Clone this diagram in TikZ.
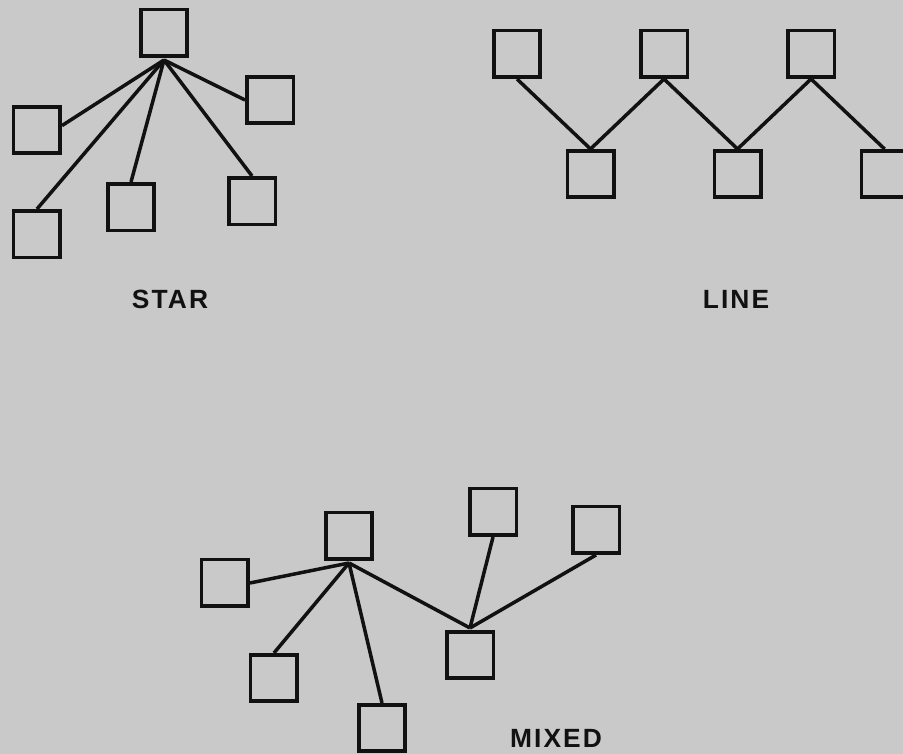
\documentclass[tikz,border=0pt]{standalone}
\usepackage{fontspec}
\newfontfamily\lblfont[LetterSpace=8]{Liberation Sans}
\usetikzlibrary{positioning}
\usepackage{xcolor}
\definecolor{paper}{HTML}{C9C9C9}
\definecolor{ink}{HTML}{111111}

\begin{document}
\begin{tikzpicture}[
  box/.style={draw=ink,line width=2pt,minimum size=0.93cm,inner sep=0pt},
  link/.style={draw=ink,line width=2pt},
  lbl/.style={font=\lblfont\bfseries\fontsize{15}{18}\selectfont,text=ink},
]
\path[use as bounding box,fill=paper] (0,0) rectangle (18.06,15.08);

% star
\node[box] (sc) at (3.28,14.42) {};
\coordinate[below=0.04cm of sc] (shub);
\node[box, below left=0.94cm and 1.54cm of sc]  (slt) {};
\node[box, below right=0.34cm and 1.12cm of sc] (srt) {};
\node[box, below=1.08cm of slt]                 (sbl) {};
\node[box, right=0.88cm of sbl, yshift=0.54cm]  (sbm) {};
\node[box, below=1.02cm of srt, xshift=-0.36cm] (sbr) {};
\draw[link] (shub) -- (slt.10);
\draw[link] (shub) -- (srt.west);
\draw[link] (shub) -- (sbl.north);
\draw[link] (shub) -- (sbm.north);
\draw[link] (shub) -- (sbr.north);
\node[lbl] (starlbl) at (3.4,9.1) {STAR};

% line
\node[box] (t1) at (10.34,14.0) {};
\node[box, below right=1.4cm and 0.47cm of t1] (b1) {};
\node[box, above right=1.4cm and 0.47cm of b1] (t2) {};
\node[box, below right=1.4cm and 0.47cm of t2] (b2) {};
\node[box, above right=1.4cm and 0.47cm of b2] (t3) {};
\node[box, below right=1.4cm and 0.47cm of t3] (b3) {};
\draw[link] (t1.south) -- (b1.north);
\draw[link] (t2.south) -- (b1.north);
\draw[link] (t2.south) -- (b2.north);
\draw[link] (t3.south) -- (b2.north);
\draw[link] (t3.south) -- (b3.north);
\node[lbl] (linelbl) at (14.72,9.1) {LINE};

% mixed
\node[box] (mc) at (6.98,4.36) {};
\coordinate[below=0.04cm of mc] (mhub);
\node[box, left=1.48cm of mc, yshift=-0.94cm]    (ml) {};
\node[box, below=0.9cm of ml, xshift=0.98cm]     (mbl) {};
\node[box, below=2.84cm of mc, xshift=0.66cm]    (mb) {};
\node[box, below right=1.38cm and 1.42cm of mc]  (mr) {};
\coordinate[above=0.04cm of mr] (rhub);
\node[box, above=1.86cm of mr, xshift=0.46cm]    (mt) {};
\node[box, right=1.06cm of mt, yshift=-0.36cm]   (mtr) {};
\draw[link] (mhub) -- (ml.east);
\draw[link] (mhub) -- (mbl.north);
\draw[link] (mhub) -- (mb.north);
\draw[link] (mhub) -- (rhub);
\draw[link] (mt.south) -- (rhub);
\draw[link] (mtr.south) -- (rhub);
\node[lbl] (mixlbl) at (11.12,0.32) {MIXED};
\end{tikzpicture}
\end{document}
